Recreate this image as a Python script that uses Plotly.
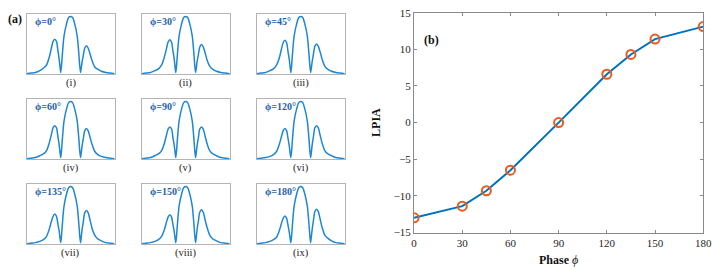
import plotly.graph_objects as go

# ---------------- data ----------------
# Panel (b)
PHASE = [0, 30, 45, 60, 90, 120, 135, 150, 180]
LPIA = [-13.0, -11.4, -9.3, -6.5, 0.0, 6.6, 9.3, 11.4, 13.1]
X_TICKS = [0, 30, 60, 90, 120, 150, 180]
Y_TICKS = [-15, -10, -5, 0, 5, 10, 15]

# Panel (a): spectra (normalized coordinates)
SPEC_X = [-1, -0.9, -0.8, -0.7, -0.62, -0.55, -0.49, -0.44, -0.4, -0.36, -0.32, -0.29, -0.26, -0.24,
          -0.225, -0.205, -0.19, -0.15, -0.09, -0.045, 0, 0.045, 0.09, 0.15, 0.19, 0.205, 0.225,
          0.24, 0.26, 0.29, 0.32, 0.36, 0.4, 0.44, 0.49, 0.55, 0.62, 0.7, 0.8, 0.9, 1]
CENTER_LOBE = [0.03, 0.16, 0.31, 0.63, 0.84, 0.935, 0.955, 0.935, 0.84, 0.63, 0.31, 0.16, 0.03]

LEFT_LOBES = [
    [0.01, 0.02, 0.03, 0.06, 0.10, 0.15, 0.27, 0.42, 0.54, 0.58, 0.54, 0.40, 0.25, 0.12],
    [0.01, 0.02, 0.03, 0.06, 0.09, 0.15, 0.27, 0.41, 0.53, 0.57, 0.53, 0.39, 0.25, 0.11],
    [0.01, 0.02, 0.03, 0.06, 0.09, 0.15, 0.26, 0.41, 0.52, 0.56, 0.52, 0.38, 0.24, 0.11],
    [0.01, 0.02, 0.03, 0.06, 0.09, 0.14, 0.26, 0.40, 0.52, 0.555, 0.52, 0.38, 0.24, 0.11],
    [0.01, 0.02, 0.03, 0.06, 0.09, 0.14, 0.25, 0.39, 0.50, 0.535, 0.50, 0.36, 0.23, 0.11],
    [0.01, 0.02, 0.03, 0.05, 0.08, 0.13, 0.24, 0.37, 0.47, 0.51, 0.47, 0.35, 0.22, 0.10],
    [0.01, 0.02, 0.03, 0.05, 0.08, 0.13, 0.24, 0.37, 0.46, 0.50, 0.46, 0.34, 0.22, 0.10],
    [0.01, 0.02, 0.03, 0.05, 0.08, 0.13, 0.23, 0.36, 0.45, 0.49, 0.45, 0.33, 0.21, 0.10],
    [0.01, 0.02, 0.03, 0.05, 0.08, 0.12, 0.22, 0.34, 0.43, 0.47, 0.43, 0.32, 0.20, 0.09],
]
RIGHT_LOBES = [
    [0.09, 0.20, 0.32, 0.43, 0.47, 0.43, 0.34, 0.22, 0.12, 0.08, 0.05, 0.03, 0.02, 0.01],
    [0.10, 0.21, 0.33, 0.45, 0.49, 0.45, 0.36, 0.23, 0.13, 0.08, 0.05, 0.03, 0.02, 0.01],
    [0.10, 0.21, 0.34, 0.46, 0.50, 0.46, 0.37, 0.24, 0.13, 0.08, 0.05, 0.03, 0.02, 0.01],
    [0.10, 0.22, 0.35, 0.47, 0.51, 0.47, 0.37, 0.24, 0.13, 0.08, 0.05, 0.03, 0.02, 0.01],
    [0.11, 0.23, 0.36, 0.50, 0.535, 0.50, 0.39, 0.25, 0.14, 0.09, 0.06, 0.03, 0.02, 0.01],
    [0.11, 0.24, 0.38, 0.52, 0.555, 0.52, 0.40, 0.26, 0.14, 0.09, 0.06, 0.03, 0.02, 0.01],
    [0.11, 0.24, 0.38, 0.52, 0.56, 0.52, 0.41, 0.26, 0.15, 0.09, 0.06, 0.03, 0.02, 0.01],
    [0.11, 0.25, 0.39, 0.53, 0.57, 0.53, 0.41, 0.27, 0.15, 0.09, 0.06, 0.03, 0.02, 0.01],
    [0.12, 0.25, 0.40, 0.54, 0.58, 0.54, 0.42, 0.27, 0.15, 0.10, 0.06, 0.03, 0.02, 0.01],
]
PANEL_PHASES = ["ϕ=0°", "ϕ=30°", "ϕ=45°", "ϕ=60°", "ϕ=90°", "ϕ=120°", "ϕ=135°", "ϕ=150°", "ϕ=180°"]
PANEL_NAMES = ["(i)", "(ii)", "(iii)", "(iv)", "(v)", "(vi)", "(vii)", "(viii)", "(ix)"]

# ---------------- layout helpers ----------------
W, H = 724, 271
def px_x(p):
    return p / W
def px_y(p):
    return 1 - p / H

SERIF = "Liberation Serif, Times New Roman, serif"
COL_L = [24, 141, 258]
COL_W = 89.5
ROW_T = [8, 97, 186]
ROW_H = 63.5

fig = go.Figure()
annotations = []
layout_axes = {}

for i in range(9):
    r, c = divmod(i, 3)
    n = i + 2
    xl, yt = COL_L[c], ROW_T[r]
    xa, ya = f"xaxis{n}", f"yaxis{n}"
    layout_axes[xa] = dict(domain=[px_x(xl), px_x(xl + COL_W)], range=[-1, 1], anchor=f"y{n}",
                           showline=True, mirror=True, linecolor="#b4b4b4", linewidth=1,
                           ticks="", showticklabels=False, showgrid=False, zeroline=False, fixedrange=True)
    layout_axes[ya] = dict(domain=[px_y(yt + ROW_H), px_y(yt)], range=[0, 1], anchor=f"x{n}",
                           showline=True, mirror=True, linecolor="#b4b4b4", linewidth=1,
                           ticks="", showticklabels=False, showgrid=False, zeroline=False, fixedrange=True)
    y = LEFT_LOBES[i] + CENTER_LOBE + RIGHT_LOBES[i]
    fig.add_trace(go.Scatter(x=SPEC_X, y=y, mode="lines", xaxis=f"x{n}", yaxis=f"y{n}",
                             line=dict(color="#1f86d4", width=1.5, shape="spline", smoothing=0.7),
                             showlegend=False, hoverinfo="skip"))
    annotations.append(dict(text=f"<b>{PANEL_PHASES[i]}</b>", x=px_x(xl + 6), y=px_y(yt + 8),
                            xref="paper", yref="paper", xanchor="left", yanchor="middle", showarrow=False,
                            font=dict(family=SERIF, size=10, color="#1f5fae")))
    annotations.append(dict(text=PANEL_NAMES[i], x=px_x(xl + COL_W / 2), y=px_y(yt + ROW_H + 9),
                            xref="paper", yref="paper", xanchor="center", yanchor="middle", showarrow=False,
                            font=dict(family=SERIF, size=10.5, color="#222222")))

# Panel (b)
fig.add_trace(go.Scatter(x=PHASE, y=LPIA, mode="lines+markers", xaxis="x", yaxis="y",
                         line=dict(color="#0072BD", width=2),
                         marker=dict(symbol="circle-open", size=9, color="#EA5B1C", line=dict(width=2, color="#EA5B1C")),
                         showlegend=False))

axcommon = dict(showline=True, mirror="ticks", linecolor="#8a8a8a", linewidth=1, ticks="inside", ticklen=3,
                tickcolor="#8a8a8a", showgrid=False, zeroline=False,
                tickfont=dict(family=SERIF, size=11, color="#262626"))
layout_axes["xaxis"] = dict(domain=[px_x(418), px_x(712)], range=[0, 180], tickvals=X_TICKS, anchor="y",
                            title=dict(text="<b>Phase</b> <i>ϕ</i>", standoff=7,
                                       font=dict(family=SERIF, size=12, color="#111111")), **axcommon)
layout_axes["yaxis"] = dict(domain=[px_y(237), px_y(7)], range=[-15, 15], tickvals=Y_TICKS, anchor="x",
                            title=dict(text="<b>LPIA</b>", standoff=10,
                                       font=dict(family=SERIF, size=12, color="#111111")), **axcommon)

annotations.append(dict(text="<b>(a)</b>", x=px_x(12), y=px_y(14), xref="paper", yref="paper",
                        xanchor="center", yanchor="middle", showarrow=False,
                        font=dict(family=SERIF, size=12, color="#111111")))
annotations.append(dict(text="<b>(b)</b>", x=px_x(436), y=px_y(36), xref="paper", yref="paper",
                        xanchor="center", yanchor="middle", showarrow=False,
                        font=dict(family=SERIF, size=12, color="#111111")))

fig.update_layout(width=W, height=H, margin=dict(l=0, r=0, t=0, b=0), paper_bgcolor="white",
                  plot_bgcolor="white", annotations=annotations, **layout_axes)

fig.write_html("out.html")
